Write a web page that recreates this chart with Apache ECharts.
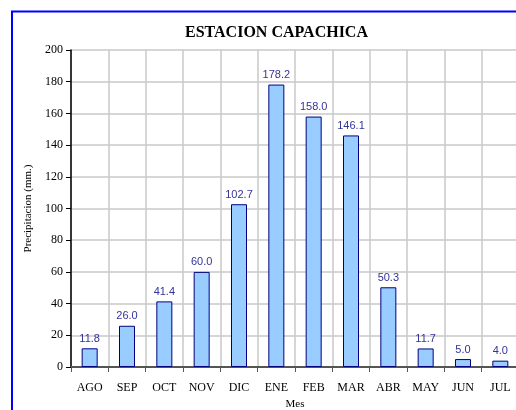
<!DOCTYPE html>
<html>
<head>
<meta charset="utf-8">
<script src="https://cdn.jsdelivr.net/npm/echarts@6/dist/echarts.min.js"></script>
<style>
  html, body { margin: 0; padding: 0; background: #fff; }
  #chart { width: 516px; height: 410px; }
</style>
</head>
<body>
<div id="chart"></div>
<script>
// meses (agosto a julio)
const months = ['AGO', 'SEP', 'OCT', 'NOV', 'DIC', 'ENE', 'FEB', 'MAR', 'ABR', 'MAY', 'JUN', 'JUL']
// precipitacion media mensual (mm.)
const precip = [11.8, 26.0, 41.4, 60.0, 102.7, 178.2, 158.0, 146.1, 50.3, 11.7, 5.0, 4.0]
const yTicks = { min: 0, max: 200, step: 20 }

const serif = '"Liberation Serif", "DejaVu Serif", serif'
const chart = echarts.init(document.getElementById('chart'))

chart.setOption({
  backgroundColor: '#fff',
  animation: false,
  title: {
    text: 'ESTACION CAPACHICA',
    left: 180,
    top: 20,
    textStyle: { fontFamily: serif, fontSize: 16, fontWeight: 'bold', color: '#000' }
  },
  graphic: [{
    type: 'rect',
    shape: { x: 12, y: 11.5, width: 600, height: 500 },
    style: { fill: 'none', stroke: '#0000ff', lineWidth: 2 },
    silent: true
  }],
  grid: { left: 71, top: 50, width: 448, height: 317, outerBoundsMode: 'none', containLabel: false },
  xAxis: {
    type: 'category',
    data: months,
    name: 'Mes',
    nameLocation: 'middle',
    nameGap: 32,
    nameTextStyle: { fontFamily: serif, fontSize: 11, color: '#000' },
    axisLine: { lineStyle: { color: '#555', width: 2 } },
    axisTick: { show: true, length: 5, lineStyle: { color: '#555' } },
    axisLabel: { fontFamily: serif, fontSize: 12, color: '#000', margin: 15 },
    splitLine: { show: true, lineStyle: { color: '#c8c8c8', width: 1.5 } }
  },
  yAxis: {
    type: 'value',
    min: yTicks.min,
    max: yTicks.max,
    interval: yTicks.step,
    name: 'Precipitacion (mm.)',
    nameLocation: 'middle',
    nameGap: 37,
    nameTextStyle: { fontFamily: serif, fontSize: 11, color: '#000' },
    axisLine: { show: true, lineStyle: { color: '#000', width: 1.5 } },
    axisTick: { show: true, length: 5, lineStyle: { color: '#000' } },
    axisLabel: { fontFamily: serif, fontSize: 12, color: '#000', margin: 8 },
    splitLine: { lineStyle: { color: '#c8c8c8', width: 1.5 } }
  },
  series: [{
    type: 'bar',
    data: precip,
    barWidth: 16,
    itemStyle: { color: '#99ccff', borderColor: '#000080', borderWidth: 1 },
    label: {
      show: true,
      position: 'top',
      distance: 4,
      formatter: p => p.value.toFixed(1),
      fontFamily: '"Liberation Sans", Arial, sans-serif',
      fontSize: 11,
      color: '#333399'
    }
  }]
})
</script>
</body>
</html>
